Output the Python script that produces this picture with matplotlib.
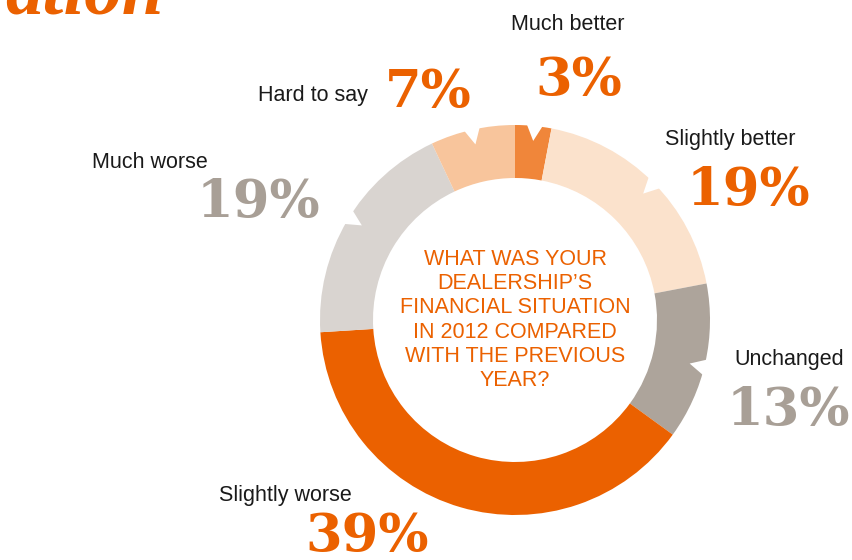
import matplotlib
matplotlib.use("Agg")
import matplotlib.pyplot as plt
from matplotlib.patches import Polygon
import numpy as np

categories = ["Much better", "Slightly better", "Unchanged", "Slightly worse", "Much worse", "Hard to say"]
values = [3, 19, 13, 39, 19, 7]
colors = ["#F0863A", "#FBE2CC", "#ADA49B", "#EB6100", "#D9D4D0", "#F8C59C"]
pct_colors = ["#EB6100", "#EB6100", "#A89F96", "#EB6100", "#A89F96", "#EB6100"]
question = "WHAT WAS YOUR\nDEALERSHIP\u2019S\nFINANCIAL SITUATION\nIN 2012 COMPARED\nWITH THE PREVIOUS\nYEAR?"

# label layout (pixel coords): (label x, label y, label ha, pct x, pct y, pct ha)
layout = [
    (568, 24, "center", 579, 80, "center"),
    (730, 140, "center", 748, 190, "center"),
    (789, 360, "center", 788, 410, "center"),
    (285, 495, "center", 367, 536, "center"),
    (150, 162, "center", 258, 202, "center"),
    (368, 96, "right", 428, 92, "center"),
]
# decorative notch angles (degrees clockwise from top)
notch_angles = [5.8, 45.4, 104.0, 301.7, 347.3]

fig = plt.figure(figsize=(8.52, 5.6), dpi=100)
ax = fig.add_axes([0, 0, 1, 1])

cx, cy, R, W = 515, 320, 195, 53
ax.pie(values, colors=colors, startangle=-90, counterclock=True,
       center=(cx, cy), radius=R, wedgeprops=dict(width=W, linewidth=0),
       frame=True)
ax.set_xlim(0, 852)
ax.set_ylim(560, 0)
ax.set_aspect("equal")
ax.axis("off")

def pt(ang, r):
    a = np.deg2rad(ang)
    return (cx + r * np.sin(a), cy - r * np.cos(a))

for a in notch_angles:
    poly = Polygon([pt(a - 2.6, R + 3), pt(a + 2.6, R + 3), pt(a, R - 15)],
                   closed=True, facecolor="white", edgecolor="none", zorder=5)
    ax.add_patch(poly)

for cat, v, pc, (lx, ly, lha, px, py, pha) in zip(categories, values, pct_colors, layout):
    ax.text(lx, ly, cat, ha=lha, va="center", fontsize=15.5, color="#1a1a1a",
            family="Liberation Sans")
    ax.text(px, py, f"{v}%", ha=pha, va="center", fontsize=38, color=pc,
            family="DejaVu Serif", fontweight="bold")

ax.text(cx, cy, question, ha="center", va="center", fontsize=15.5,
        color="#EB6100", family="Liberation Sans", linespacing=1.2)

ax.text(164, 14, "ation", ha="right", va="baseline", fontsize=54, color="#EB6100",
        family="Liberation Serif", fontweight="bold", style="italic")

fig.savefig("out.png", dpi=100)
